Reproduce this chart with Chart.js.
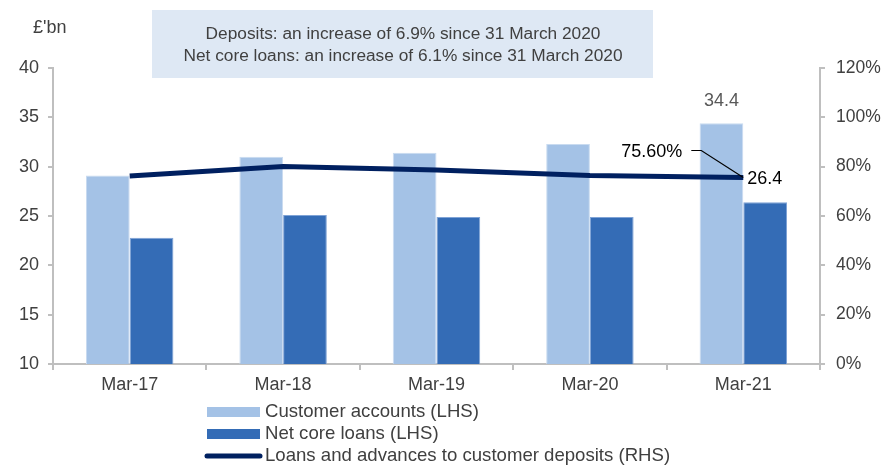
<!DOCTYPE html>
<html>
<head>
<meta charset="utf-8">
<script src="https://cdn.jsdelivr.net/npm/chart.js@4"></script>
<style>
  html, body { margin: 0; padding: 0; background: #fff; }
  #wrap { width: 886px; height: 465px; }
</style>
</head>
<body>
<div id="wrap"><canvas id="chart" width="886" height="465"></canvas></div>
<script>
// values
var categories = ["Mar-17", "Mar-18", "Mar-19", "Mar-20", "Mar-21"];
var customerAccounts = [29.1, 31.0, 31.4, 32.3, 34.4];
var netCoreLoans = [22.8, 25.1, 24.9, 24.9, 26.4];
var loansToDeposits = [76.2, 80.1, 78.6, 76.4, 75.6];
var leftTicks = [10, 15, 20, 25, 30, 35, 40];
var rightTicks = [0, 20, 40, 60, 80, 100, 120];
var boxLines = [
    "Deposits: an increase of 6.9% since 31 March 2020",
    "Net core loans: an increase of 6.1% since 31 March 2020"
];

var FONT = 'Arial, "Liberation Sans", sans-serif';
var lightBlue = '#a4c2e6';
var midBlue = '#346cb6';
var navy = '#002060';
var axisGrey = '#bfbfbf';

var extras = {
    id: 'extras',
    beforeDraw: function (chart) {
        var ctx = chart.ctx;
        ctx.save();
        // note box
        ctx.fillStyle = '#dee8f4';
        ctx.fillRect(152, 10, 501, 68);
        ctx.fillStyle = '#404040';
        ctx.font = '17.3px ' + FONT;
        ctx.textAlign = 'center';
        ctx.textBaseline = 'middle';
        ctx.fillText(boxLines[0], 403, 34);
        ctx.fillText(boxLines[1], 403, 56);
        // unit
        ctx.font = '18px ' + FONT;
        ctx.textAlign = 'left';
        ctx.fillText("£'bn", 33, 28);
        ctx.restore();
    },
    afterDatasetsDraw: function (chart) {
        var ctx = chart.ctx;
        var last = categories.length - 1;
        var barA = chart.getDatasetMeta(0).data[last];
        var linePt = chart.getDatasetMeta(2).data[last];
        ctx.save();
        ctx.font = '18px ' + FONT;
        ctx.textBaseline = 'middle';
        // 34.4 above bar
        ctx.fillStyle = '#595959';
        ctx.textAlign = 'center';
        ctx.fillText(customerAccounts[last].toFixed(1), barA.x, barA.y - 22);
        // 26.4 label
        ctx.fillStyle = '#000';
        ctx.textAlign = 'left';
        ctx.fillText(netCoreLoans[last].toFixed(1), linePt.x + 4, linePt.y + 2);
        // 75.60% label with leader line
        ctx.textAlign = 'right';
        ctx.fillText(loansToDeposits[last].toFixed(2) + '%', linePt.x - 61, linePt.y - 25);
        ctx.strokeStyle = '#000';
        ctx.lineWidth = 1.2;
        ctx.beginPath();
        ctx.moveTo(linePt.x - 52, linePt.y - 27);
        ctx.lineTo(linePt.x - 42, linePt.y - 27);
        ctx.lineTo(linePt.x, linePt.y);
        ctx.stroke();
        ctx.restore();
    },
    afterDraw: function (chart) {
        var ctx = chart.ctx;
        var ds = chart.data.datasets;
        ctx.save();
        ctx.font = '18.6px ' + FONT;
        ctx.textBaseline = 'middle';
        ctx.textAlign = 'left';
        var rows = [412, 434, 456];
        for (var i = 0; i < ds.length; i++) {
            var y = rows[i];
            if (ds[i].type === 'line') {
                ctx.strokeStyle = ds[i].borderColor;
                ctx.lineWidth = 5;
                ctx.lineCap = 'round';
                ctx.beginPath();
                ctx.moveTo(207, y);
                ctx.lineTo(260, y);
                ctx.stroke();
            } else {
                ctx.fillStyle = ds[i].backgroundColor;
                ctx.fillRect(207, y - 5, 53, 10);
            }
            ctx.fillStyle = '#404040';
            ctx.fillText(ds[i].label, 265, y);
        }
        ctx.restore();
    }
};

var config = {
    type: 'bar',
    data: {
        labels: categories,
        datasets: [{
            label: 'Customer accounts (LHS)',
            data: customerAccounts,
            backgroundColor: lightBlue,
            borderColor: '#c9dbf0',
            borderWidth: 1,
            yAxisID: 'y',
            order: 2
        }, {
            label: 'Net core loans (LHS)',
            data: netCoreLoans,
            backgroundColor: midBlue,
            borderColor: '#7fa3d6',
            borderWidth: 1,
            yAxisID: 'y',
            order: 2
        }, {
            type: 'line',
            label: 'Loans and advances to customer deposits (RHS)',
            data: loansToDeposits,
            borderColor: navy,
            backgroundColor: navy,
            borderWidth: 5,
            pointRadius: 0,
            tension: 0,
            yAxisID: 'y2',
            order: 1
        }]
    },
    options: {
        responsive: false,
        animation: false,
        layout: { padding: { top: 68, left: 0, right: 0, bottom: 0 } },
        datasets: { bar: { categoryPercentage: 0.57, barPercentage: 1 } },
        plugins: { legend: { display: false }, tooltip: { enabled: false } },
        scales: {
            x: {
                grid: { display: true, drawOnChartArea: false, offset: true, color: axisGrey, tickLength: 6, lineWidth: 2 },
                border: { color: axisGrey, width: 2 },
                ticks: { color: '#404040', font: { family: FONT, size: 18 }, padding: 4 },
                afterFit: function (s) { s.height = 101; }
            },
            y: {
                position: 'left',
                min: 10, max: 40,
                afterBuildTicks: function (s) { s.ticks = leftTicks.map(function (v) { return { value: v }; }); },
                grid: { display: true, drawOnChartArea: false, color: axisGrey, tickLength: 5, lineWidth: 2 },
                border: { color: axisGrey, width: 2 },
                ticks: { color: '#404040', font: { family: FONT, size: 18 }, padding: 9 },
                afterFit: function (s) { s.width = 53; }
            },
            y2: {
                position: 'right',
                min: 0, max: 120,
                afterBuildTicks: function (s) { s.ticks = rightTicks.map(function (v) { return { value: v }; }); },
                grid: { display: true, drawOnChartArea: false, color: axisGrey, tickLength: 5, lineWidth: 2 },
                border: { color: axisGrey, width: 2 },
                ticks: { color: '#404040', font: { family: FONT, size: 17.5 }, padding: 11, callback: function (v) { return v + '%'; } },
                afterFit: function (s) { s.width = 66; }
            }
        }
    },
    plugins: [extras]
};

var chart = new Chart(document.getElementById('chart'), config);
</script>
</body>
</html>
